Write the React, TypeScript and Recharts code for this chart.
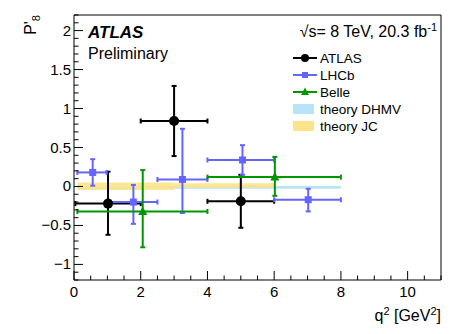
import React from 'react';
import { ComposedChart, XAxis, YAxis, Scatter, ErrorBar, ReferenceArea } from 'recharts';

// ATLAS measurement (bins in q2, P'8 with total errors)
const atlasQ2 = [1.02, 3.0, 5.0];
const atlasBinLo = [0.04, 2, 4];
const atlasBinHi = [2, 4, 6];
const atlasP8 = [-0.22, 0.84, -0.19];
const atlasErrUp = [0.41, 0.45, 0.34];
const atlasErrDown = [0.4, 0.45, 0.34];

const lhcbQ2 = [0.56, 1.78, 3.25, 5.05, 7.02];
const lhcbBinLo = [0.1, 1.1, 2.5, 4, 6];
const lhcbBinHi = [0.98, 2.5, 4, 6, 8];
const lhcbP8 = [0.18, -0.2, 0.09, 0.34, -0.17];
const lhcbErrUp = [0.17, 0.22, 0.65, 0.19, 0.14];
const lhcbErrDown = [0.17, 0.28, 0.43, 0.19, 0.15];

const belleQ2 = [2.06, 6.02];
const belleBinLo = [0.1, 4];
const belleBinHi = [4, 8];
const belleP8 = [-0.32, 0.12];
const belleErrUp = [0.53, 0.26];
const belleErrDown = [0.46, 0.24];

// theory bands
const dhmvBinLo = [0.1, 2, 4, 6];
const dhmvBinHi = [2, 4, 6, 8];
const dhmvLow = [-0.04, -0.03, -0.03, -0.03];
const dhmvHigh = [0.0, 0.005, 0.005, 0.005];

const jcBinLo = [0.1, 3];
const jcBinHi = [3, 6];
const jcLow = [-0.045, -0.015];
const jcHigh = [0.05, 0.04];

const xTicks = [0, 0.5, 1, 1.5, 2, 2.5, 3, 3.5, 4, 4.5, 5, 5.5, 6, 6.5, 7, 7.5, 8, 8.5, 9, 9.5, 10, 10.5, 11];
const xLabels = [0, 2, 4, 6, 8, 10];
const yTicks = [
  -1.2, -1.1, -1, -0.9, -0.8, -0.7, -0.6, -0.5, -0.4, -0.3, -0.2, -0.1, 0, 0.1, 0.2, 0.3, 0.4,
  0.5, 0.6, 0.7, 0.8, 0.9, 1, 1.1, 1.2, 1.3, 1.4, 1.5, 1.6, 1.7, 1.8, 1.9, 2, 2.1, 2.2,
];
const yLabels = [-1, -0.5, 0, 0.5, 1, 1.5, 2];

const W = 465;
const H = 334;
const TOP = 15;
const BOTTOM = 280;
const LEFT = 74;
const RIGHT = 441;

const BLUE = '#6464ff';
const GREEN = '#009600';
const LIGHTBLUE = '#b8e4fa';
const YELLOW = '#fde38a';
const FONT = '"Liberation Sans", Arial, Helvetica, sans-serif';

const isIn = (v: number, list: number[]) => list.some((m) => Math.abs(m - v) < 1e-6);
const fmt = (v: number) => (v < 0 ? '\u2212' + Math.abs(v) : String(v));

const makeRows = (q: number[], lo: number[], hi: number[], p: number[], up: number[], dn: number[]) =>
  q.map((x, i) => ({ q2: x, p8: p[i], ex: [x - lo[i], hi[i] - x], ey: [dn[i], up[i]] }));

const atlasData = makeRows(atlasQ2, atlasBinLo, atlasBinHi, atlasP8, atlasErrUp, atlasErrDown);
const lhcbData = makeRows(lhcbQ2, lhcbBinLo, lhcbBinHi, lhcbP8, lhcbErrUp, lhcbErrDown);
const belleData = makeRows(belleQ2, belleBinLo, belleBinHi, belleP8, belleErrUp, belleErrDown);

const XTickBottom = (props: any) => {
  const { x, payload } = props;
  const major = isIn(payload.value, xLabels);
  return (
    <g>
      <line x1={x} x2={x} y1={BOTTOM} y2={BOTTOM - (major ? 9 : 4.5)} stroke="#000" strokeWidth={1} />
      {major && (
        <text x={x} y={BOTTOM + 17} textAnchor="middle" fontSize={15} fontFamily={FONT} fill="#000">
          {fmt(payload.value)}
        </text>
      )}
    </g>
  );
};

const XTickTop = (props: any) => {
  const { x, payload } = props;
  const major = isIn(payload.value, xLabels);
  return <line x1={x} x2={x} y1={TOP} y2={TOP + (major ? 9 : 4.5)} stroke="#000" strokeWidth={1} />;
};

const YTickLeft = (props: any) => {
  const { y, payload } = props;
  const major = isIn(payload.value, yLabels);
  return (
    <g>
      <line x1={LEFT} x2={LEFT + (major ? 9 : 4.5)} y1={y} y2={y} stroke="#000" strokeWidth={1} />
      {major && (
        <text x={LEFT - 3} y={y} dy={5} textAnchor="end" fontSize={15} fontFamily={FONT} fill="#000">
          {fmt(payload.value)}
        </text>
      )}
    </g>
  );
};

const YTickRight = (props: any) => {
  const { y, payload } = props;
  const major = isIn(payload.value, yLabels);
  return <line x1={RIGHT} x2={RIGHT - (major ? 9 : 4.5)} y1={y} y2={y} stroke="#000" strokeWidth={1} />;
};

const AtlasDot = (p: any) => <circle cx={p.cx} cy={p.cy} r={5} fill="#000" />;
const LhcbSquare = (p: any) => <rect x={p.cx - 3.5} y={p.cy - 3.5} width={7} height={7} fill={BLUE} />;
const BelleTri = (p: any) => (
  <polygon points={`${p.cx},${p.cy - 5} ${p.cx - 4.5},${p.cy + 3.5} ${p.cx + 4.5},${p.cy + 3.5}`} fill={GREEN} />
);

const legendRows = [
  { label: 'ATLAS', y: 58 },
  { label: 'LHCb', y: 75 },
  { label: 'Belle', y: 92 },
  { label: 'theory DHMV', y: 109 },
  { label: 'theory JC', y: 126 },
];

export default function App() {
  return (
    <div style={{ position: 'absolute', left: 0, top: 0, background: '#fff' }}>
      <ComposedChart width={W} height={H} margin={{ top: TOP - 1, right: W - RIGHT - 1, bottom: 24, left: 34 }}>
        <XAxis
          dataKey="q2"
          type="number"
          domain={[0, 11]}
          ticks={xTicks}
          interval={0}
          tickLine={false}
          axisLine={{ stroke: '#000', strokeWidth: 1 }}
          tick={XTickBottom}
          height={30}
        />
        <XAxis
          xAxisId="top"
          orientation="top"
          type="number"
          domain={[0, 11]}
          ticks={xTicks}
          interval={0}
          tickLine={false}
          axisLine={{ stroke: '#000', strokeWidth: 1 }}
          tick={XTickTop}
          height={1}
        />
        <YAxis
          dataKey="p8"
          type="number"
          domain={[-1.2, 2.2]}
          ticks={yTicks}
          interval={0}
          tickLine={false}
          axisLine={{ stroke: '#000', strokeWidth: 1 }}
          tick={YTickLeft}
          width={40}
        />
        <YAxis
          yAxisId="right"
          orientation="right"
          type="number"
          domain={[-1.2, 2.2]}
          ticks={yTicks}
          interval={0}
          tickLine={false}
          axisLine={{ stroke: '#000', strokeWidth: 1 }}
          tick={YTickRight}
          width={1}
        />

        {dhmvBinLo.map((lo, i) => (
          <ReferenceArea
            key={'dhmv' + i}
            x1={lo}
            x2={dhmvBinHi[i]}
            y1={dhmvLow[i]}
            y2={dhmvHigh[i]}
            fill={LIGHTBLUE}
            fillOpacity={1}
            stroke="none"
          />
        ))}
        {jcBinLo.map((lo, i) => (
          <ReferenceArea
            key={'jc' + i}
            x1={lo}
            x2={jcBinHi[i]}
            y1={jcLow[i]}
            y2={jcHigh[i]}
            fill={YELLOW}
            fillOpacity={0.9}
            stroke="none"
          />
        ))}

        <Scatter data={atlasData} dataKey="p8" shape={AtlasDot} isAnimationActive={false}>
          <ErrorBar dataKey="ex" direction="x" width={2.5} stroke="#000" strokeWidth={2} />
          <ErrorBar dataKey="ey" direction="y" width={2.5} stroke="#000" strokeWidth={2} />
        </Scatter>
        <Scatter data={lhcbData} dataKey="p8" shape={LhcbSquare} isAnimationActive={false}>
          <ErrorBar dataKey="ex" direction="x" width={2.5} stroke={BLUE} strokeWidth={2} />
          <ErrorBar dataKey="ey" direction="y" width={2.5} stroke={BLUE} strokeWidth={2} />
        </Scatter>
        <Scatter data={belleData} dataKey="p8" shape={BelleTri} isAnimationActive={false}>
          <ErrorBar dataKey="ex" direction="x" width={2.5} stroke={GREEN} strokeWidth={2} />
          <ErrorBar dataKey="ey" direction="y" width={2.5} stroke={GREEN} strokeWidth={2} />
        </Scatter>

        <g fontFamily={FONT} fill="#000">
          <text x={88} y={38} fontSize={17} fontWeight="bold" fontStyle="italic">
            ATLAS
          </text>
          <text x={88} y={59} fontSize={16}>
            Preliminary
          </text>
          <text x={437} y={37} fontSize={16} textAnchor="end">
            {'\u221As= 8 TeV, 20.3 fb'}
            <tspan dy={-6} fontSize={11}>
              -1
            </tspan>
          </text>
          <text transform="translate(36,15) rotate(-90)" x={0} y={0} fontSize={16} textAnchor="end">
            P'
            <tspan dy={4} fontSize={11}>
              8
            </tspan>
          </text>
          <text x={RIGHT} y={321} fontSize={16} textAnchor="end">
            q<tspan dy={-6} fontSize={11}>2</tspan>
            <tspan dy={6}> [GeV</tspan>
            <tspan dy={-6} fontSize={11}>2</tspan>
            <tspan dy={6}>]</tspan>
          </text>

          {/* legend */}
          <line x1={293} x2={317} y1={legendRows[0].y} y2={legendRows[0].y} stroke="#000" strokeWidth={2} />
          <circle cx={305} cy={legendRows[0].y} r={4} fill="#000" />
          <line x1={293} x2={317} y1={legendRows[1].y} y2={legendRows[1].y} stroke={BLUE} strokeWidth={2} />
          <rect x={302} y={legendRows[1].y - 3} width={6} height={6} fill={BLUE} />
          <line x1={293} x2={317} y1={legendRows[2].y} y2={legendRows[2].y} stroke={GREEN} strokeWidth={2} />
          <polygon
            points={`305,${legendRows[2].y - 4.5} 301,${legendRows[2].y + 3} 309,${legendRows[2].y + 3}`}
            fill={GREEN}
          />
          <rect x={293} y={legendRows[3].y - 5} width={21} height={10} fill={LIGHTBLUE} />
          <rect x={293} y={legendRows[4].y - 5} width={21} height={10} fill={YELLOW} />
          {legendRows.map((r) => (
            <text key={r.label} x={320} y={r.y + 5} fontSize={13.5}>
              {r.label}
            </text>
          ))}
        </g>
      </ComposedChart>
    </div>
  );
}
